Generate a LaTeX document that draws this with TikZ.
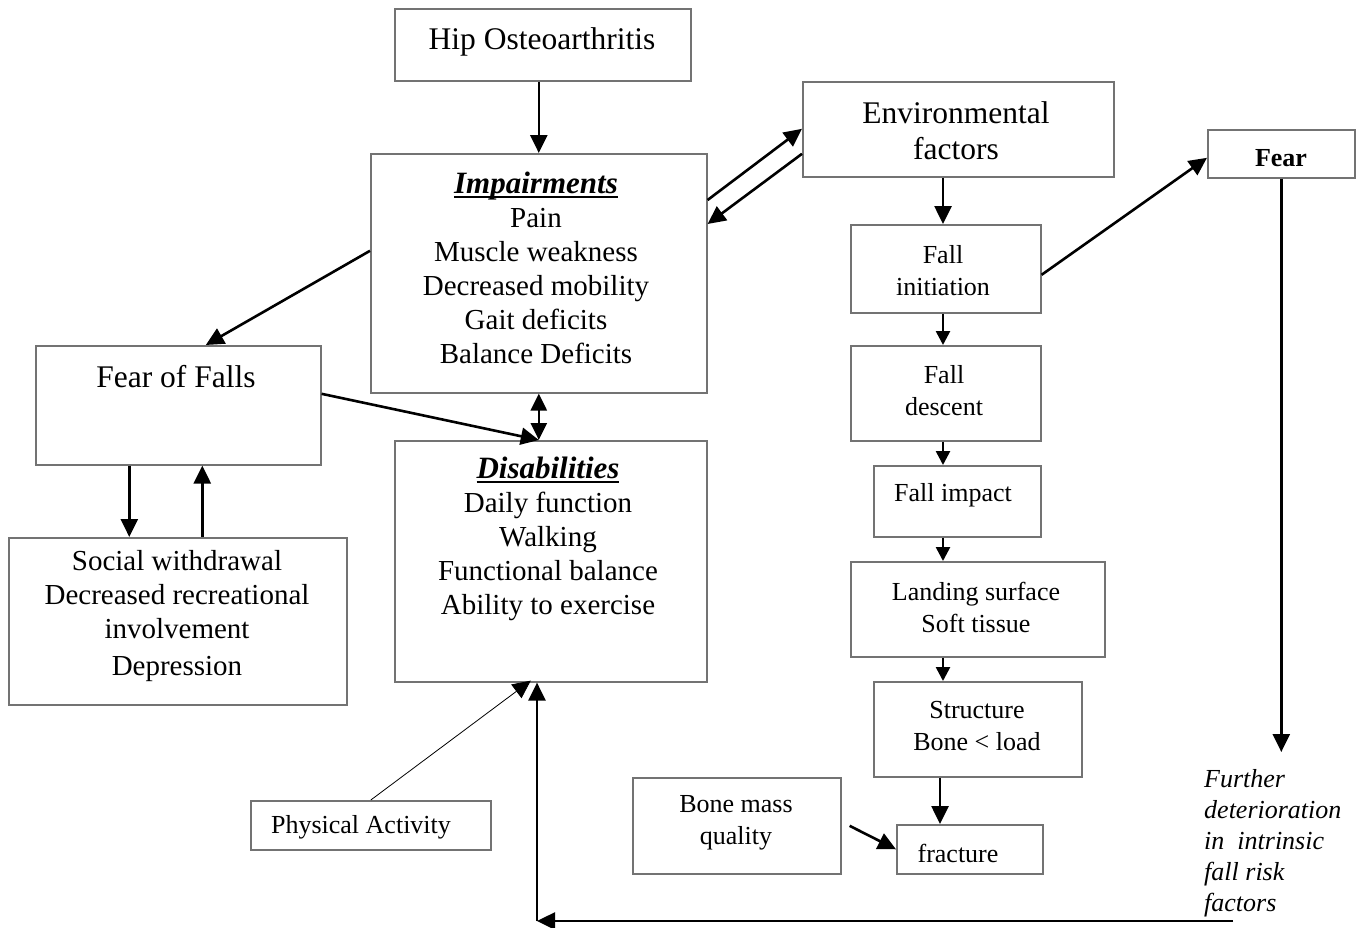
\documentclass[tikz,border=0pt]{standalone}
\usepackage{fontspec}
\setmainfont{Liberation Serif}
\usetikzlibrary{arrows.meta,calc}
\definecolor{boxgray}{RGB}{115,115,115}
\newcommand\fbig{\fontsize{31.5}{36}\selectfont}
\newcommand\fmid{\fontsize{29}{34}\selectfont}
\newcommand\fhead{\fontsize{31}{34}\selectfont}
\newcommand\fsmall{\fontsize{26}{32}\selectfont}
\newcommand\myul[1]{\setbox0\hbox{#1}\rlap{\rule[-4pt]{\wd0}{2pt}}\box0}
\begin{document}
\begin{tikzpicture}[x=1pt,y=-1pt,
  box/.style={draw=boxgray, line width=1.6pt, inner sep=0pt, anchor=north west},
  txt/.style={inner sep=0pt, align=center},
  arr/.style={-{Triangle[length=18pt,width=17pt]}, line width=2.6pt},
  sarr/.style={-{Triangle[length=14pt,width=14pt]}, line width=2.6pt},
  darr/.style={{Triangle[length=17pt,width=16pt]}-{Triangle[length=17pt,width=16pt]}, line width=2.6pt},
  tarr/.style={-{Triangle[length=18pt,width=17pt]}, line width=0.8pt}
]
\useasboundingbox (0,0) rectangle (1366,927);
\fill[white] (0,0) rectangle (1366,927);

% boxes
\node[box, minimum width=296pt, minimum height=72pt]  (hip)    at (394,8)   {};
\node[box, minimum width=336pt, minimum height=239pt] (imp)    at (370,153) {};
\node[box, minimum width=311pt, minimum height=95pt]  (env)    at (802,81)  {};
\node[box, minimum width=147pt, minimum height=48pt]  (fear)   at (1207,129){};
\node[box, minimum width=190pt, minimum height=88pt]  (finit)  at (850,224) {};
\node[box, minimum width=190pt, minimum height=95pt]  (fdesc)  at (850,345) {};
\node[box, minimum width=167pt, minimum height=71pt]  (fimp)   at (873,465) {};
\node[box, minimum width=254pt, minimum height=95pt]  (land)   at (850,561) {};
\node[box, minimum width=208pt, minimum height=95pt]  (struct) at (873,681) {};
\node[box, minimum width=208pt, minimum height=96pt]  (bone)   at (632,777) {};
\node[box, minimum width=146pt, minimum height=49pt]  (frac)   at (896,824) {};
\node[box, minimum width=285pt, minimum height=119pt] (fof)    at (35,345)  {};
\node[box, minimum width=338pt, minimum height=167pt] (soc)    at (8,537)   {};
\node[box, minimum width=312pt, minimum height=241pt] (dis)    at (394,440) {};
\node[box, minimum width=240pt, minimum height=49pt]  (pa)     at (250,800) {};

% texts
\node[txt, font=\fbig] at (542,42) {Hip Osteoarthritis};
\node[txt, font=\fmid] at (536,268) {{\fhead\bfseries\itshape\myul{Impairments}}\\Pain\\Muscle weakness\\Decreased mobility\\Gait deficits\\Balance Deficits};
\node[txt, font=\fbig] at (956,131) {Environmental\\factors};
\node[txt, font=\fsmall\bfseries] at (1281,158) {Fear};
\node[txt, font=\fsmall] at (943,271) {Fall\\initiation};
\node[txt, font=\fsmall] at (944,391) {Fall\\descent};
\node[txt, font=\fsmall] at (953,495) {Fall impact};
\node[txt, font=\fsmall] at (976,607) {Landing surface\\Soft tissue};
\node[txt, font=\fsmall] at (977,726) {Structure\\Bone < load};
\node[txt, font=\fsmall] at (736,823) {Bone mass\\quality};
\node[txt, font=\fsmall] at (958,853) {fracture};
\node[txt, font=\fbig] at (176,377) {Fear of Falls};
\node[txt, font=\fmid] at (177,616) {Social withdrawal\\Decreased recreational\\involvement\\[3pt]Depression};
\node[txt, font=\fmid] at (548,539) {{\fhead\bfseries\itshape\myul{Disabilities}}\\Daily function\\Walking\\Functional balance\\Ability to exercise};
\node[txt, font=\fsmall] at (361,827) {Physical Activity};
\node[inner sep=0pt, align=left, anchor=north west, font=\fontsize{26}{31}\selectfont\itshape] (further) at (1204,769) {Further\\deterioration\\in\ \ intrinsic\\fall risk\\factors};

% helper coordinates
\coordinate (col) at (943,0);
\coordinate (fearend) at (1281,752);
\coordinate (bl) at (1233,921);
\coordinate (bc) at (537,921);

% connectors
\draw[arr] (imp.north |- hip.south) -- (imp.north);
\draw[arr] ([yshift=-47pt]imp.north east) -- ([yshift=0.5pt]env.west);
\draw[arr] ([yshift=-24.5pt]env.west) -- ([yshift=-71pt]imp.north east);
\draw[arr] (env.south -| col) -- (finit.north -| col);
\draw[arr] ([yshift=-6pt]finit.east) -- ([yshift=-4pt]fear.west);
\draw[sarr] (finit.south -| col) -- (fdesc.north -| col);
\draw[sarr] (fdesc.south -| col) -- (fimp.north -| col);
\draw[sarr] (fimp.south -| col) -- (land.north -| col);
\draw[sarr] (land.south -| col) -- (struct.north -| col);
\draw[arr] ([xshift=-3pt]struct.south -| col) -- ([xshift=-3pt]frac.north -| col);
\draw[arr] ([xshift=8pt]bone.east) -- (frac.west);
\draw[arr] (fear.south) -- (fear.south |- fearend);
\draw[arr] (bl) -- (bc);
\draw[arr] (bc) -- (bc |- dis.south);
\draw[tarr] (pa.north) -- ([xshift=-20pt,yshift=2pt]dis.south);
\draw[darr] (imp.south) -- (imp.south |- dis.north);
\draw[arr] ([yshift=11.5pt]fof.east) -- (imp.south |- dis.north);
\draw[arr] ([yshift=22.5pt]imp.west) -- ([xshift=27.5pt]fof.north);
\draw[arr] ([xshift=-49pt]fof.south) -- ([xshift=-49pt]fof.south |- soc.north);
\draw[arr] ([xshift=24pt]fof.south |- soc.north) -- ([xshift=24pt]fof.south);
\end{tikzpicture}
\end{document}
